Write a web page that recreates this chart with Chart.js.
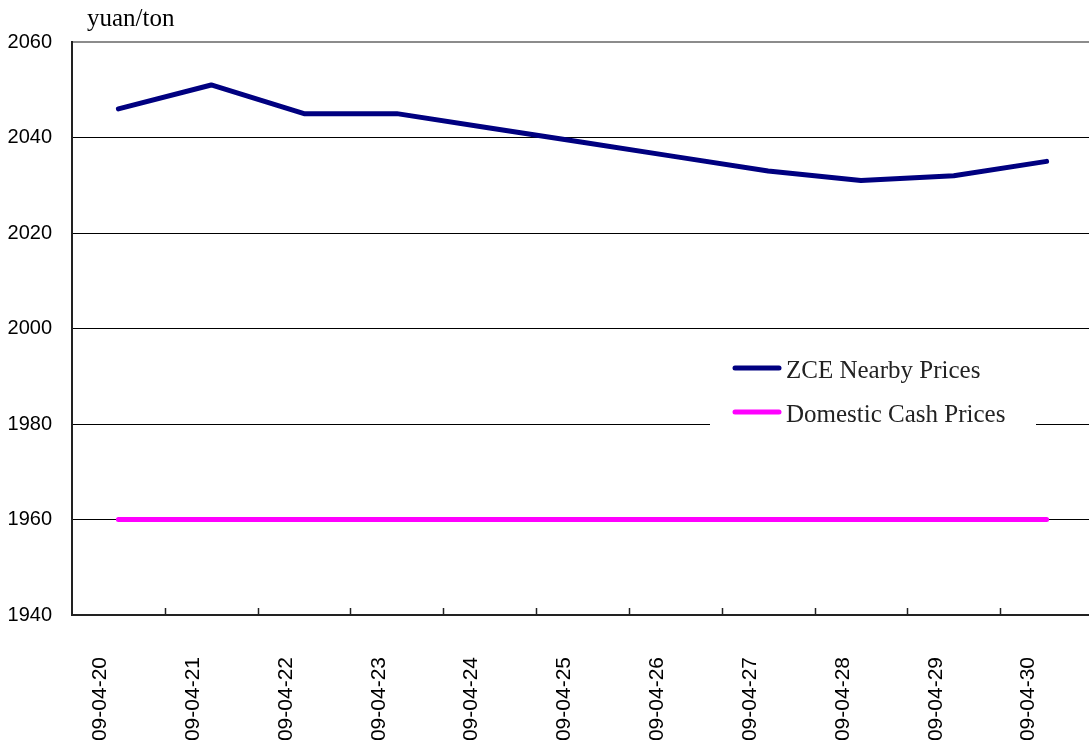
<!DOCTYPE html>
<html>
<head>
<meta charset="utf-8">
<script src="https://cdn.jsdelivr.net/npm/chart.js@4.4.0/dist/chart.umd.min.js"></script>
<style>
  html, body { margin: 0; padding: 0; background: #fff; overflow: hidden; width: 1089px; height: 740px; }
  #wrap { position: absolute; left: 0; top: 0; width: 1095px; height: 760px; }
</style>
</head>
<body>
<div id="wrap"><canvas id="c" width="1095" height="760"></canvas></div>
<script>
const categories = ['2009-04-20','2009-04-21','2009-04-22','2009-04-23','2009-04-24','2009-04-25','2009-04-26','2009-04-27','2009-04-28','2009-04-29','2009-04-30'];
const zceNearby = [2046, 2051, 2045, 2045, 2042, 2039, 2036, 2033, 2031, 2032, 2035];
const domesticCash = [1960, 1960, 1960, 1960, 1960, 1960, 1960, 1960, 1960, 1960, 1960];
const seriesNames = ['ZCE Nearby Prices', 'Domestic Cash Prices'];
const yTicks = [1940, 1960, 1980, 2000, 2020, 2040, 2060];
const unitLabel = 'yuan/ton';

const serifFont = '"Liberation Serif", "DejaVu Serif", serif';
const sansFont = '"Liberation Sans", Arial, sans-serif';

const decorPlugin = {
  id: 'decor',
  afterDraw(chart) {
    const ctx = chart.ctx;
    const xs = chart.scales.x;
    const area = chart.chartArea;
    ctx.save();
    // inner tick marks at category boundaries
    ctx.strokeStyle = '#222';
    ctx.lineWidth = 1.5;
    const n = categories.length;
    for (let i = 1; i < n; i++) {
      const xb = (xs.getPixelForValue(i - 1) + xs.getPixelForValue(i)) / 2;
      ctx.beginPath();
      ctx.moveTo(Math.round(xb) + 0.5, area.bottom);
      ctx.lineTo(Math.round(xb) + 0.5, area.bottom - 7);
      ctx.stroke();
    }
    // unit label
    ctx.fillStyle = '#000';
    ctx.font = '25px ' + serifFont;
    ctx.textBaseline = 'alphabetic';
    ctx.textAlign = 'left';
    ctx.fillText(unitLabel, 87, 26);
    // legend
    ctx.fillStyle = '#fff';
    ctx.fillRect(710, 345, 326, 92);
    const rows = [368, 412];
    chart.data.datasets.forEach((ds, i) => {
      ctx.strokeStyle = ds.borderColor;
      ctx.lineWidth = 5;
      ctx.lineCap = 'round';
      ctx.beginPath();
      ctx.moveTo(735, rows[i]);
      ctx.lineTo(779, rows[i]);
      ctx.stroke();
      ctx.fillStyle = '#222';
      ctx.font = '25px ' + serifFont;
      ctx.textBaseline = 'middle';
      ctx.fillText(ds.label, 786, rows[i] + 3);
    });
    ctx.restore();
  }
};

new Chart(document.getElementById('c'), {
  type: 'line',
  data: {
    labels: categories,
    datasets: [
      { label: seriesNames[0], data: zceNearby, borderColor: '#000080', borderWidth: 5, pointRadius: 0, tension: 0, borderCapStyle: 'round', borderJoinStyle: 'round', fill: false },
      { label: seriesNames[1], data: domesticCash, borderColor: '#FF00FF', borderWidth: 5, pointRadius: 0, tension: 0, borderCapStyle: 'round', borderJoinStyle: 'round', fill: false }
    ]
  },
  options: {
    responsive: false,
    animation: false,
    devicePixelRatio: 1,
    layout: { padding: { left: 0, top: 42, right: 2, bottom: 0 } },
    plugins: { legend: { display: false }, tooltip: { enabled: false }, title: { display: false } },
    scales: {
      x: {
        type: 'category',
        offset: true,
        grid: { display: false, drawTicks: false },
        border: { display: true, color: '#222', width: 2 },
        ticks: {
          autoSkip: false, minRotation: 90, maxRotation: 90,
          color: '#000', font: { family: sansFont, size: 21 },
          padding: 42, labelOffset: -18
        },
        afterFit(s) { s.height = 145; s.paddingLeft = 0; s.paddingRight = 0; }
      },
      y: {
        min: 1940, max: 2060,
        afterBuildTicks(s) { s.ticks = yTicks.map(v => ({ value: v })); },
        grid: {
          drawTicks: false,
          color: c => (c.tick && c.tick.value === 2060) ? '#8c8c8c' : '#000',
          lineWidth: c => (c.tick && c.tick.value === 2060) ? 2 : 1
        },
        border: { display: true, color: '#222', width: 2 },
        ticks: { color: '#000', font: { family: sansFont, size: 20 }, padding: 20, callback: v => String(v) },
        afterFit(s) { s.width = 72; s.paddingTop = 0; s.paddingBottom = 0; }
      }
    }
  },
  plugins: [decorPlugin]
});
</script>
</body>
</html>
